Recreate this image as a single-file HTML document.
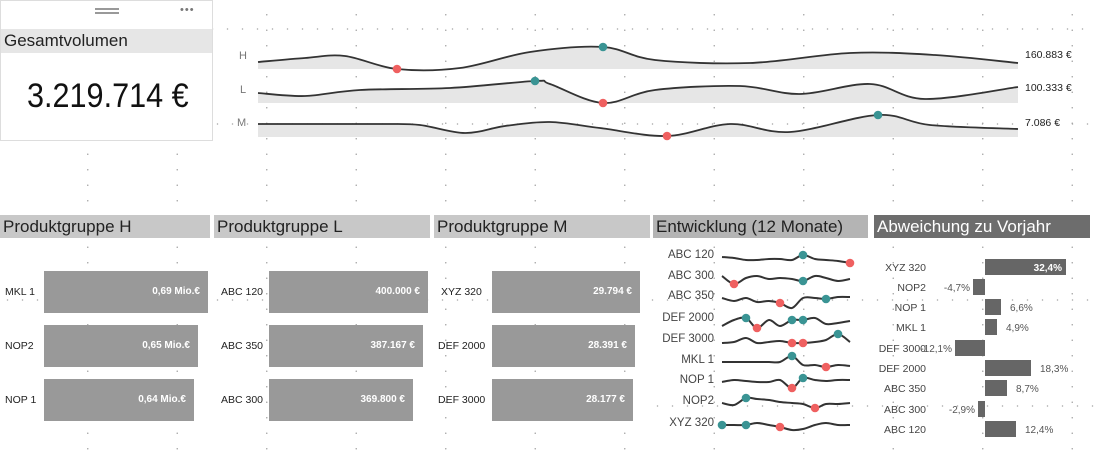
<!DOCTYPE html>
<html><head><meta charset="utf-8"><style>
body{margin:0;width:1096px;height:455px;overflow:hidden;background:#fff;font-family:"Liberation Sans",sans-serif;position:relative}
.grid{position:absolute;left:0;top:0;width:1096px;height:455px;background-image:radial-gradient(circle,#a8a8a8 0.6px,transparent 0.9px);background-size:89.5px 15.5px;background-position:43px 7px;}
.hrow{position:absolute;height:2px;background-image:radial-gradient(circle,#a8a8a8 0.6px,transparent 0.9px);background-size:15px 2px}
.ab{position:absolute}
.hd{position:absolute;height:23px;font-size:17px;line-height:23px;padding-left:3px;color:#222;box-sizing:border-box;white-space:nowrap}
.bar{position:absolute;background:#999;height:42px;color:#fff;font-weight:bold;font-size:10px;line-height:42px;text-align:right;box-sizing:border-box;padding-right:8px}
.lb{position:absolute;font-size:10.5px;color:#222;line-height:42px}
</style></head><body>
<div class="grid"></div>
<div class="hrow" style="left:205px;top:28px;width:891px"></div>
<div class="hrow" style="left:0;top:123px;width:1096px"></div>
<div class="hrow" style="left:0;top:299px;width:1096px"></div>
<div class="hrow" style="left:650px;top:405px;width:446px"></div>
<!-- KPI card -->
<div class="ab" style="left:0;top:0;width:213px;height:141px;border:1px solid #ddd;background:#fff;box-sizing:border-box"></div>
<div class="ab" style="left:95px;top:8px;width:24px;height:1.5px;background:#999"></div>
<div class="ab" style="left:95px;top:12px;width:24px;height:1.5px;background:#999"></div>
<div class="ab" style="left:180px;top:4px;font-size:11px;color:#777;letter-spacing:1px">•••</div>
<div class="hd" style="left:1px;top:29px;width:211px;height:24px;background:#e6e6e6;font-size:17px">Gesamtvolumen</div>
<div class="ab" style="left:27px;top:77px;font-size:34px;color:#111;transform:scaleX(0.9);transform-origin:left">3.219.714 €</div>

<svg class="ab" style="left:0;top:0" width="1096" height="455" id="sv">
<g font-size="11" fill="#777" font-family="Liberation Sans,sans-serif">
<text x="239" y="59">H</text><text x="240" y="93">L</text><text x="237" y="126">M</text>
</g>
<g font-size="10.5" fill="#222" font-family="Liberation Sans,sans-serif">
<text x="1025" y="58">160.883 €</text><text x="1025" y="91">100.333 €</text><text x="1025" y="126">7.086 €</text>
</g>
</svg>

<div class="hd" style="left:0;top:215px;width:210px;background:#c8c8c8">Produktgruppe H</div>
<div class="hd" style="left:214px;top:215px;width:216px;background:#c8c8c8">Produktgruppe L</div>
<div class="hd" style="left:434px;top:215px;width:216px;background:#c8c8c8">Produktgruppe M</div>
<div class="hd" style="left:653px;top:215px;width:215px;background:#b4b4b4">Entwicklung (12 Monate)</div>
<div class="hd" style="left:874px;top:215px;width:216px;background:#6d6d6d;color:#fff">Abweichung zu Vorjahr</div>

<div class="lb" style="left:5px;top:271px">MKL 1</div><div class="bar" style="left:44px;top:271px;width:164px">0,69 Mio.€</div>
<div class="lb" style="left:5px;top:325px">NOP2</div><div class="bar" style="left:44px;top:325px;width:154px">0,65 Mio.€</div>
<div class="lb" style="left:5px;top:379px">NOP 1</div><div class="bar" style="left:44px;top:379px;width:150px">0,64 Mio.€</div>
<div class="lb" style="left:221px;top:271px">ABC 120</div><div class="bar" style="left:269px;top:271px;width:159px">400.000 €</div>
<div class="lb" style="left:221px;top:325px">ABC 350</div><div class="bar" style="left:269px;top:325px;width:154px">387.167 €</div>
<div class="lb" style="left:221px;top:379px">ABC 300</div><div class="bar" style="left:269px;top:379px;width:144px">369.800 €</div>
<div class="lb" style="left:441px;top:271px">XYZ 320</div><div class="bar" style="left:492px;top:271px;width:148px">29.794 €</div>
<div class="lb" style="left:438px;top:325px">DEF 2000</div><div class="bar" style="left:492px;top:325px;width:143px">28.391 €</div>
<div class="lb" style="left:438px;top:379px">DEF 3000</div><div class="bar" style="left:492px;top:379px;width:141px">28.177 €</div>

<script>
const sv=document.getElementById('sv');const NS='http://www.w3.org/2000/svg';
function path(p){let d='M'+p[0][0]+','+p[0][1];for(let i=0;i<p.length-1;i++){const p0=p[i-1]||p[i],p1=p[i],p2=p[i+1],p3=p[i+2]||p2;const t=6;d+=' C'+(p1[0]+(p2[0]-p0[0])/t)+','+(p1[1]+(p2[1]-p0[1])/t)+' '+(p2[0]-(p3[0]-p1[0])/t)+','+(p2[1]-(p3[1]-p1[1])/t)+' '+p2[0]+','+p2[1];}return d;}
function el(n,a){const e=document.createElementNS(NS,n);for(const k in a)e.setAttribute(k,a[k]);sv.appendChild(e);return e;}
function spark(p,base,dots,w){if(base){el('path',{d:path(p)+' L'+p[p.length-1][0]+','+base+' L'+p[0][0]+','+base+' Z',fill:'#e6e6e6'});}
el('path',{d:path(p),fill:'none',stroke:'#333','stroke-width':w||2});
dots.forEach(d=>el('circle',{cx:d[0],cy:d[1],r:4.3,fill:d[2]?'#3a9494':'#ef6060'}));}
const T=1,R=0;
spark([[258,62],[305,58],[345,56],[397,69],[460,68],[530,52],[603,47],[655,60],[750,63],[850,53],[935,55],[1018,63]],69,[[397,69,R],[603,47,T]],1.8);
spark([[258,93],[305,96],[360,90],[450,88],[535,81],[550,84],[603,103],[655,90],[740,86],[800,94],[870,84],[925,99],[1018,87]],103,[[535,81,T],[603,103,R]],1.8);
spark([[258,124],[330,124],[385,124],[420,125],[465,133],[505,126],[550,122],[600,128],[667,136],[730,124],[790,132],[878,115],[930,125],[1018,129]],137,[[667,136,R],[878,115,T]],1.8);
const X=[722,734,746,757,769,780,792,803,815,826,838,850];
const rows=[
[257,[0,1,3,3,2,2,3,-2,2,3,4,6],[[7,T],[11,R]]],
[278,[-2,6,0,-2,1,0,1,3,-2,0,3,1],[[1,R],[7,T]]],
[298,[0,3,0,4,3,5,10,0,0,1,-1,-1],[[5,R],[9,T]]],
[320,[6,0,-2,8,0,6,0,0,-2,4,3,1],[[2,T],[3,R],[6,T],[7,T]]],
[341,[2,1,-3,2,1,0,2,2,1,-1,-7,1],[[6,R],[7,R],[10,T]]],
[362,[0,0,0,0,0,0,-6,3,3,5,3,4],[[6,T],[9,R]]],
[382,[0,-2,-1,0,0,-2,6,-4,-2,-1,-2,-2],[[6,R],[7,T]]],
[403,[0,2,-5,-4,-3,-1,0,1,5,1,1,0],[[2,T],[8,R]]],
[425,[0,0,0,-2,0,2,5,4,0,-2,0,0],[[0,T],[2,T],[5,R]]]];
const names=['ABC 120','ABC 300','ABC 350','DEF 2000','DEF 3000','MKL 1','NOP 1','NOP2','XYZ 320'];
rows.forEach((r,i)=>{const p=X.map((x,j)=>[x,r[0]+r[1][j]]);
const t=el('text',{x:714,y:r[0]+1,'text-anchor':'end','font-size':'11.5',fill:'#444','font-family':'Liberation Sans,sans-serif'});t.textContent=names[i];
spark(p,0,r[2].map(d=>[X[d[0]],r[0]+r[1][d[0]],d[1]]),2);});
const ab=[['XYZ 320',267,985,1066,'32,4%'],['NOP2',287,973,985,'-4,7%'],['NOP 1',307,985,1001,'6,6%'],['MKL 1',327,985,997,'4,9%'],['DEF 3000',348,955,985,'-12,1%'],['DEF 2000',368,985,1031,'18,3%'],['ABC 350',388,985,1007,'8,7%'],['ABC 300',409,978,985,'-2,9%'],['ABC 120',429,985,1016,'12,4%']];
ab.forEach((a,i)=>{const t=el('text',{x:926,y:a[1]+4,'text-anchor':'end','font-size':'10.5',fill:'#444','font-family':'Liberation Sans,sans-serif'});t.textContent=a[0];
el('rect',{x:a[2],y:a[1]-8,width:a[3]-a[2],height:16,fill:'#666'});
let v;if(i==0)v=el('text',{x:1062,y:a[1]+4,'text-anchor':'end','font-size':'10',fill:'#fff','font-weight':'bold','font-family':'Liberation Sans,sans-serif'});
else if(a[2]<985)v=el('text',{x:a[2]-3,y:a[1]+4,'text-anchor':'end','font-size':'10',fill:'#555','font-family':'Liberation Sans,sans-serif'});
else v=el('text',{x:a[3]+9,y:a[1]+4,'font-size':'10',fill:'#555','font-family':'Liberation Sans,sans-serif'});
v.textContent=a[4];});
</script>
</body></html>
